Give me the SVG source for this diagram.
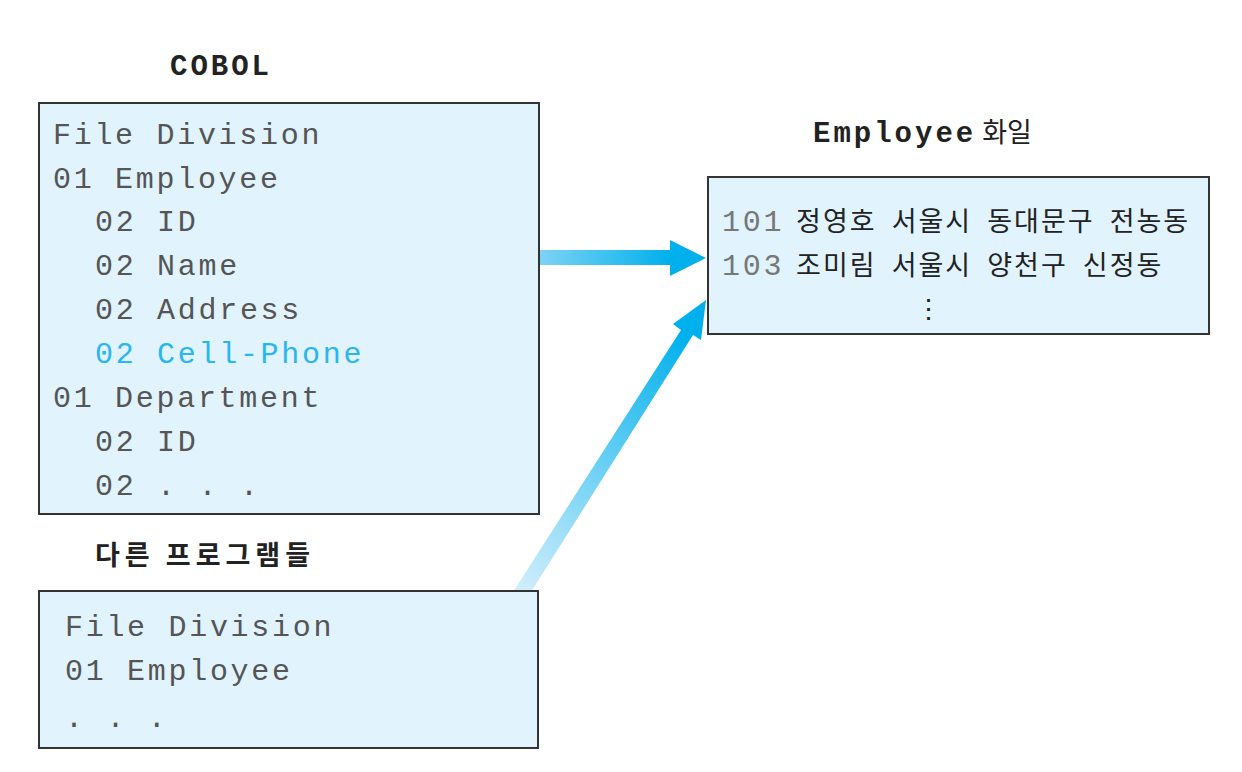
<svg xmlns="http://www.w3.org/2000/svg" width="1242" height="772" viewBox="0 0 1242 772">
<style>
.box{fill:#e1f3fd;stroke:#333;stroke-width:2}
.mono{font-family:"Liberation Mono",monospace;font-size:30px;letter-spacing:2.7px;fill:#555}
.kr{font-family:"Noto Sans CJK KR",sans-serif;font-size:27px;fill:#222}
.t{font-family:"Liberation Mono",monospace;font-weight:bold;font-size:29px;letter-spacing:3px;fill:#222}
</style>
<defs>
<linearGradient id="gh" x1="540" y1="0" x2="670" y2="0" gradientUnits="userSpaceOnUse"><stop offset="0" stop-color="#7dd3f4"/><stop offset="1" stop-color="#00b0ec"/></linearGradient>
<linearGradient id="gd" x1="515" y1="592" x2="680" y2="330" gradientUnits="userSpaceOnUse"><stop offset="0" stop-color="#d3effc"/><stop offset="1" stop-color="#00b0ec"/></linearGradient>
</defs>
<text class="t" x="170" y="75">COBOL</text>
<text x="813" y="142"><tspan class="t">Employee</tspan><tspan class="kr" dx="6">화일</tspan></text>
<text class="kr" x="95" y="565" font-weight="bold" font-size="28" letter-spacing="5">다른 프로그램들</text>
<g id="connectors">
<path d="M540,250 L670,250 L670,240 L706,258 L670,276 L670,265 L540,265 Z" fill="url(#gh)"/>
<path d="M513,592 L681,330 L673,324 L706,300 L701,340 L693,335 L526,600 Z" fill="url(#gd)"/>
</g>
<g id="cobol">
<rect class="box" x="39" y="103" width="500" height="411"/>
<text class="mono" x="53" y="144">File Division</text>
<text class="mono" x="53" y="188">01 Employee</text>
<text class="mono" x="95" y="231">02 ID</text>
<text class="mono" x="95" y="275">02 Name</text>
<text class="mono" x="95" y="319">02 Address</text>
<text class="mono" x="95" y="363" style="fill:#29b6ef">02 Cell-Phone</text>
<text class="mono" x="53" y="407">01 Department</text>
<text class="mono" x="95" y="451">02 ID</text>
<text class="mono" x="95" y="495">02 . . .</text>
</g>
<g id="other">
<rect class="box" x="39" y="591" width="499" height="157"/>
<text class="mono" x="65" y="636">File Division</text>
<text class="mono" x="65" y="680">01 Employee</text>
<text class="mono" x="65" y="727">. . .</text>
</g>
<g id="file">
<rect class="box" x="708" y="177" width="501" height="157"/>
<text x="722" y="231"><tspan class="mono" style="fill:#777" letter-spacing="1">101</tspan><tspan class="kr" dx="12" letter-spacing="2" word-spacing="7">정영호 서울시 동대문구 전농동</tspan></text>
<text x="722" y="275"><tspan class="mono" style="fill:#777" letter-spacing="1">103</tspan><tspan class="kr" dx="12" letter-spacing="2" word-spacing="7">조미림 서울시 양천구 신정동</tspan></text>
<text class="kr" x="928" y="318" text-anchor="middle" font-size="18">⋮</text>
</g>
</svg>
